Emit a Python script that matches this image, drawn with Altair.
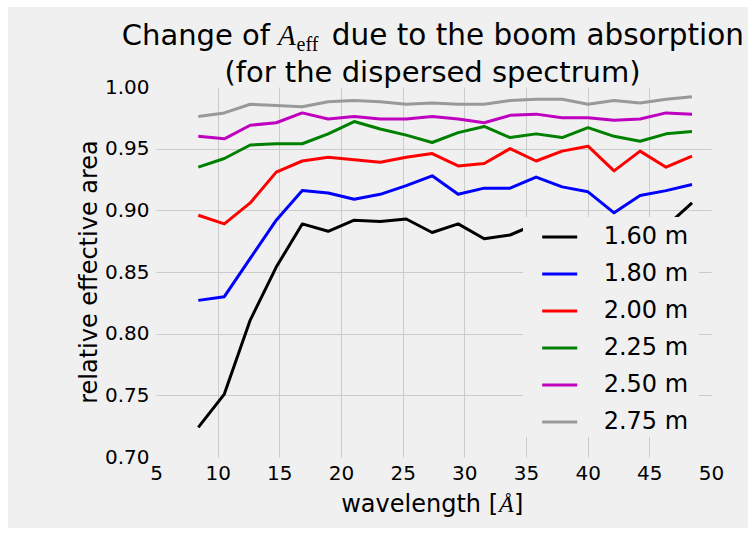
import altair as alt
import pandas as pd

# ---------------- data ----------------
wavelength = [8.43, 10.54, 12.64, 14.75, 16.86, 18.96, 21.07, 23.18, 25.29, 27.39,
              29.50, 31.61, 33.71, 35.82, 37.93, 40.03, 42.14, 44.25, 46.36, 48.46]

area_160 = [0.724, 0.751, 0.811, 0.854, 0.889, 0.883, 0.892, 0.891, 0.893, 0.882,
            0.889, 0.877, 0.880, 0.889, 0.887, 0.889, 0.884, 0.886, 0.887, 0.906]
area_180 = [0.827, 0.830, 0.861, 0.892, 0.916, 0.914, 0.909, 0.913, 0.920, 0.928,
            0.913, 0.918, 0.918, 0.927, 0.919, 0.915, 0.898, 0.912, 0.916, 0.921]
area_200 = [0.896, 0.889, 0.906, 0.931, 0.940, 0.943, 0.941, 0.939, 0.943, 0.946,
            0.936, 0.938, 0.950, 0.940, 0.948, 0.952, 0.932, 0.948, 0.935, 0.944]
area_225 = [0.935, 0.942, 0.953, 0.954, 0.954, 0.962, 0.972, 0.966, 0.961, 0.955,
            0.963, 0.968, 0.959, 0.962, 0.959, 0.967, 0.960, 0.956, 0.962, 0.964]
area_250 = [0.960, 0.958, 0.969, 0.971, 0.979, 0.974, 0.976, 0.974, 0.974, 0.976,
            0.974, 0.971, 0.977, 0.978, 0.975, 0.975, 0.973, 0.974, 0.979, 0.978]
area_275 = [0.976, 0.979, 0.986, 0.985, 0.984, 0.988, 0.989, 0.988, 0.986, 0.987,
            0.986, 0.986, 0.989, 0.990, 0.990, 0.986, 0.989, 0.987, 0.990, 0.992]

series_labels = ["1.60 m", "1.80 m", "2.00 m", "2.25 m", "2.50 m", "2.75 m"]
series_colors = ["#000000", "#0000ff", "#ff0000", "#008000", "#bf00bf", "#999999"]
series_values = [area_160, area_180, area_200, area_225, area_250, area_275]

x_ticks = [5, 10, 15, 20, 25, 30, 35, 40, 45, 50]
y_ticks = [0.70, 0.75, 0.80, 0.85, 0.90, 0.95, 1.00]

title_part1 = "Change of"
title_sym = "A"
title_sub = "eff"
title_part2 = "due to the boom absorption"
title_line2 = "(for the dispersed spectrum)"
xlabel_part1 = "wavelength ["
xlabel_sym = "Å"
xlabel_part2 = "]"
ylabel = "relative effective area"

# ---------------- table ----------------
rows = []
for lab, vals in zip(series_labels, series_values):
    for w, v in zip(wavelength, vals):
        rows.append({"wavelength": w, "area": v, "boom": lab})
df = pd.DataFrame(rows)

BG = "#f0f0f0"
GRID = "#cbcbcb"
FONT = "DejaVu Sans"
SERIF = "Liberation Serif"

W, H = 555, 370

lines = alt.Chart(df).mark_line(strokeWidth=3, strokeJoin="round").encode(
    x=alt.X("wavelength:Q",
            scale=alt.Scale(domain=[5, 50], nice=False, zero=False),
            axis=alt.Axis(values=x_ticks, title=None, labelFontSize=20, labelFont=FONT,
                          labelColor="#000000", labelPadding=6, ticks=False, domain=False,
                          labelFlush=False, labelOverlap=False,
                          grid=True, gridColor=GRID, gridWidth=1,
                          gridOpacity={"condition": {"test": "datum.value <= 5 || datum.value >= 50", "value": 0}, "value": 1},
                          format="d")),
    y=alt.Y("area:Q",
            scale=alt.Scale(domain=[0.70, 1.00], nice=False, zero=False),
            axis=alt.Axis(values=y_ticks, title=None, labelFontSize=20, labelFont=FONT,
                          labelColor="#000000", labelPadding=7, ticks=False, domain=False,
                          labelFlush=False, labelOverlap=False,
                          grid=True, gridColor=GRID, gridWidth=1,
                          gridOpacity={"condition": {"test": "datum.value <= 0.7001 || datum.value >= 0.9999", "value": 0}, "value": 1},
                          format=".2f")),
    color=alt.Color("boom:N",
                    scale=alt.Scale(domain=series_labels, range=series_colors),
                    legend=alt.Legend(orient="none", legendX=384.7, legendY=131, title=None,
                                      symbolType="stroke", symbolSize=1225, symbolStrokeWidth=3,
                                      labelFontSize=24, labelFont=FONT, labelColor="#000000",
                                      labelOffset=25, rowPadding=6, padding=0,
                                      labelLimit=300)),
    order=alt.Order("wavelength:Q"),
)

one = alt.Data(values=[{"k": 1}])

legend_bg = alt.Chart(one).mark_rect(fill=BG).encode(
    x=alt.value(367), x2=alt.value(543), y=alt.value(130), y2=alt.value(350))

border_top = alt.Chart(one).mark_rect(fill="#ffffff").encode(
    x=alt.value(-156), x2=alt.value(W + 37), y=alt.value(-87), y2=alt.value(-80))
border_left = alt.Chart(one).mark_rect(fill="#ffffff").encode(
    x=alt.value(-156), x2=alt.value(-148), y=alt.value(-87), y2=alt.value(H + 76))
border_bottom = alt.Chart(one).mark_rect(fill="#ffffff").encode(
    x=alt.value(-156), x2=alt.value(W + 37), y=alt.value(441), y2=alt.value(H + 76))


def txt(s, x, y, size, font=FONT, align="left", baseline="alphabetic", style="normal", angle=0):
    kw = dict(text=s, fontSize=size, font=font, align=align, baseline=baseline,
              fontStyle=style, color="#000000")
    if angle:
        kw["angle"] = angle
    return alt.Chart(one).mark_text(**kw).encode(x=alt.value(x), y=alt.value(y))


texts = [
    txt(title_part1, 114, -42, 29, align="right"),
    txt(title_sym, 122, -42, 29, font=SERIF, style="italic"),
    txt(title_sub, 140.5, -36, 20, font=SERIF),
    txt(title_part2, 588, -42, 29.5, align="right"),
    txt(title_line2, 276.5, -5.5, 29, align="center"),
    txt(xlabel_part1, 342, 425, 24, align="right"),
    txt(xlabel_sym, 343, 425, 24, font=SERIF, style="italic"),
    txt(xlabel_part2, 358, 425, 24),
    txt(ylabel, -59, H / 2, 24, align="center", angle=270),
]

chart = alt.layer(lines, legend_bg, border_top, border_left, border_bottom, *texts).properties(
    width=W, height=H,
    autosize=alt.AutoSizeParams(type="none"),
    padding={"left": 156, "top": 87, "right": 37, "bottom": 76},
    background=BG,
).configure_view(stroke=None)

chart.save("out.html", embed_options={"renderer": "svg", "actions": False})
